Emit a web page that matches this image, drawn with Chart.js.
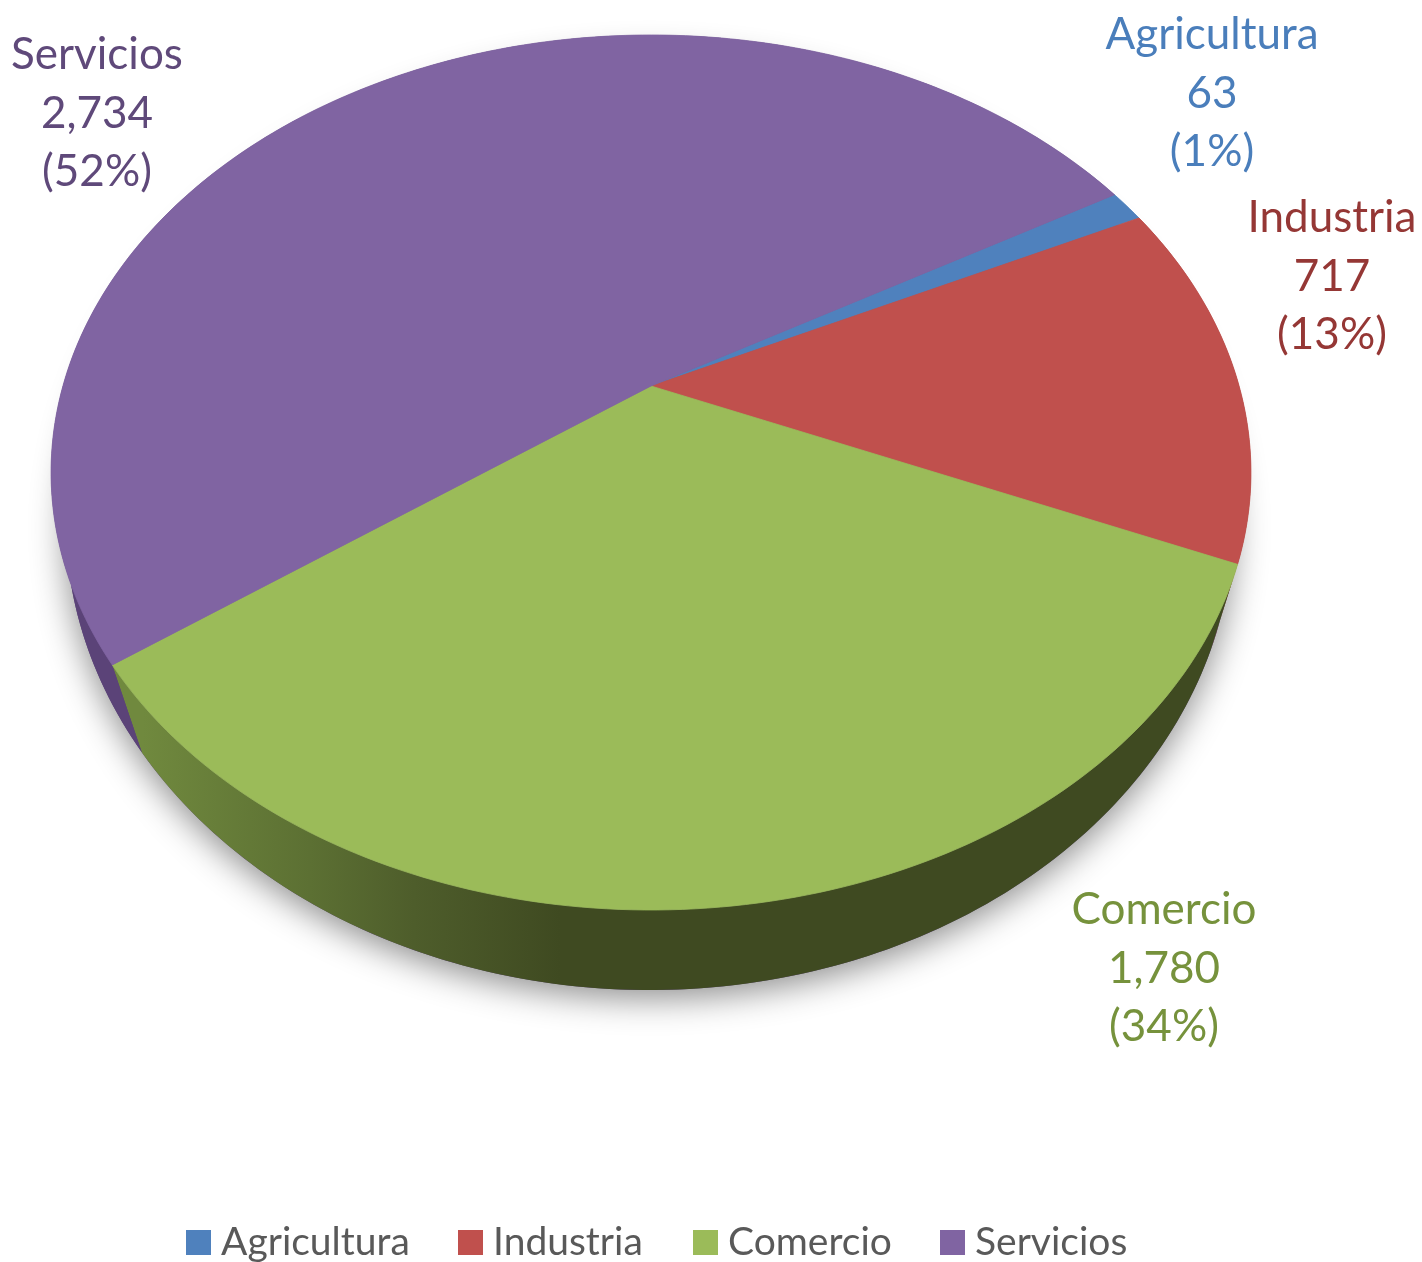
<!DOCTYPE html>
<html>
<head>
<meta charset="utf-8">
<title>Agricultura, Industria, Comercio, Servicios</title>
<script src="https://cdn.jsdelivr.net/npm/chart.js@4/dist/chart.umd.js"></script>
<style>
  html, body { margin: 0; padding: 0; background: #fff; overflow: hidden; }
  #wrap { position: relative; width: 1422px; height: 1262px; }
</style>
</head>
<body>
<div id="wrap"><canvas id="chart" width="1422" height="1262"></canvas></div>
<script>
const categories = ['Agricultura', 'Industria', 'Comercio', 'Servicios'];
const values = [63, 717, 1780, 2734];
const percents = [1, 13, 34, 52];

const sliceColors = ['#4f81bd', '#c0504d', '#9bbb59', '#8064a2'];
const labelColors = ['#4a7ebb', '#953735', '#76923c', '#5f497a'];

const FONT_FAMILY = 'Lato, "Open Sans", sans-serif';
const LABEL_FONT = '400 44px ' + FONT_FAMILY;
const LEGEND_FONT = '400 39px ' + FONT_FAMILY;

// centre x and first baseline of each data label
const labelSpots = [[1212, 49], [1332, 232], [1164, 924], [97, 69]];
const LABEL_LINE = 58.7;

// legend swatch left edges, text starts 35px later
const legendX = [186, 458, 693, 940];

// tilted disc
const TOP_RIM = { x: 651, y: 386, tilt: -0.1977, sx: 588.1, sy: 420.4 };
const LOW_RIM = { x: 649.5, y: 459, tilt: -0.13, sx: 579, sy: 462 };

function project(rim, a) {
  const u = Math.cos(a), v = Math.sin(a);
  const w = 1 + rim.tilt * v;
  return { x: rim.x + rim.sx * u / w, y: rim.y + rim.sy * v / w };
}

function arcPoints(rim, start, end) {
  const n = Math.max(2, Math.ceil((end - start) / (Math.PI / 180)));
  const pts = [];
  for (let i = 0; i <= n; i++) pts.push(project(rim, start + (end - start) * i / n));
  return pts;
}

function tracePath(ctx, pts) {
  ctx.beginPath();
  pts.forEach((p, i) => (i ? ctx.lineTo(p.x, p.y) : ctx.moveTo(p.x, p.y)));
  ctx.closePath();
}

const tiltedPie = {
  id: 'tiltedPie',
  // replaces the flat arcs, angles still come from the pie controller
  beforeDatasetsDraw(chart) {
    const ctx = chart.ctx;
    const arcs = chart.getDatasetMeta(0).data.map(a => a.getProps(['startAngle', 'endAngle'], true));

    // soft shadow under the disc
    ctx.save();
    ctx.shadowColor = 'rgba(0,0,0,0.45)';
    ctx.shadowBlur = 34;
    ctx.shadowOffsetY = 8;
    ctx.fillStyle = '#5b4378';
    tracePath(ctx, arcPoints(LOW_RIM, 0, Math.PI * 2));
    ctx.fill();
    ctx.restore();

    // side walls
    const sideFill = ctx.createLinearGradient(143, 0, 560, 0);
    sideFill.addColorStop(0, '#70893e');
    sideFill.addColorStop(0.4, '#5c7033');
    sideFill.addColorStop(0.65, '#4e5d2b');
    sideFill.addColorStop(1, '#3f4a21');
    const sides = [null, '#8c3a38', sideFill, '#5b4378'];
    arcs.forEach((arc, i) => {
      if (!sides[i]) return;
      const pts = arcPoints(TOP_RIM, arc.startAngle, arc.endAngle)
        .concat(arcPoints(LOW_RIM, arc.startAngle, arc.endAngle).reverse());
      tracePath(ctx, pts);
      ctx.fillStyle = sides[i];
      ctx.fill();
    });

    // top faces
    ctx.lineWidth = 0.8;
    ctx.lineJoin = 'round';
    arcs.forEach((arc, i) => {
      tracePath(ctx, [TOP_RIM].concat(arcPoints(TOP_RIM, arc.startAngle, arc.endAngle)));
      ctx.fillStyle = sliceColors[i];
      ctx.strokeStyle = sliceColors[i];
      ctx.fill();
      ctx.stroke();
    });
    return false;
  },
  afterDraw(chart) {
    const ctx = chart.ctx;
    ctx.save();
    ctx.textBaseline = 'alphabetic';

    // data labels
    ctx.font = LABEL_FONT;
    ctx.textAlign = 'center';
    categories.forEach((name, i) => {
      const lines = [name, values[i].toLocaleString('en-US'), '(' + percents[i] + '%)'];
      ctx.fillStyle = labelColors[i];
      lines.forEach((t, j) => ctx.fillText(t, labelSpots[i][0], labelSpots[i][1] + j * LABEL_LINE));
    });

    // legend
    ctx.font = LEGEND_FONT;
    ctx.textAlign = 'left';
    categories.forEach((name, i) => {
      ctx.fillStyle = sliceColors[i];
      ctx.fillRect(legendX[i], 1230, 25, 25);
      ctx.fillStyle = '#595959';
      ctx.fillText(name, legendX[i] + 35, 1255);
    });
    ctx.restore();
  }
};

new Chart(document.getElementById('chart'), {
  type: 'pie',
  data: {
    labels: categories,
    datasets: [{ data: values, backgroundColor: sliceColors, borderWidth: 0 }]
  },
  options: {
    responsive: false,
    animation: false,
    rotation: 60,
    plugins: {
      legend: { display: false },
      tooltip: { enabled: false }
    }
  },
  plugins: [tiltedPie]
});
</script>
</body>
</html>
